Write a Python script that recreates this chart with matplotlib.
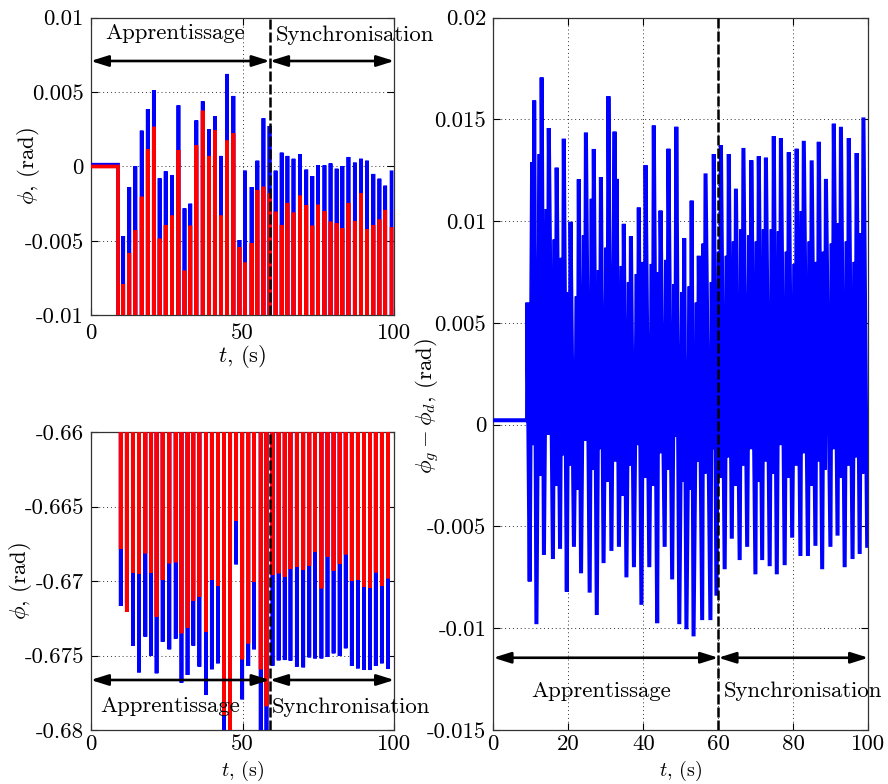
import numpy as np
import matplotlib
matplotlib.use('Agg')
import matplotlib.pyplot as plt

plt.rcParams['font.family'] = ['cmr10', 'DejaVu Serif']
plt.rcParams['mathtext.fontset'] = 'cm'
plt.rcParams['axes.unicode_minus'] = False
plt.rcParams['axes.formatter.use_mathtext'] = True

# ---------------- data ----------------
# phi_g (blue) and phi_d (red): one trough then one peak per cycle (s)
phi_t_trough = [9.9, 11.9, 13.9, 15.9, 18.0, 19.9, 21.7, 23.7, 25.9, 28.0,
                29.9, 31.9, 33.8, 35.8, 38.0, 39.9, 41.9, 43.9, 45.9, 47.9,
                49.9, 51.9, 53.8, 56.0, 57.9, 59.9, 61.9, 63.9, 65.8, 67.9,
                70.0, 72.0, 73.9, 76.0, 78.0, 80.0, 82.0, 84.0, 86.0, 88.0,
                90.0, 92.0, 93.9, 95.9, 97.9]
phi_t_peak = [10.7, 12.7, 14.7, 16.8, 18.8, 20.8, 22.7, 24.7, 26.8, 28.9,
              30.9, 32.8, 34.8, 36.9, 39.0, 40.9, 42.9, 44.9, 47.0, 49.0,
              50.8, 53.0, 54.9, 56.9, 58.9, 60.9, 62.9, 64.8, 66.8, 68.9,
              71.0, 73.0, 74.9, 77.0, 79.0, 81.0, 82.9, 84.9, 87.0, 89.0,
              91.0, 93.1, 95.1, 97.0, 99.1]
# peak values (mrad)
phi_g_peak = [-4.67, -1.38, 0.03, 2.41, 3.86, 5.14, -0.79, -0.32, -0.57, 4.11,
              -2.81, -2.50, 3.10, 4.38, 2.50, 3.39, 0.71, 6.22, 4.74, -4.94,
              -0.28, -1.38, 0.39, 3.24, 2.72, -0.28, 0.93, 0.71, 0.52, 0.82,
              -0.21, -0.64, 0.08, 0.08, 0.21, -0.15, 0.03, 0.64, 0.26, 0.52,
              0.39, -0.50, -0.82, -1.29, -0.39]
phi_d_peak = [-7.90, -5.83, -4.29, -2.03, 1.16, 2.67, -4.85, -3.93, -3.30, 1.11,
              -7.00, -3.98, 1.42, 3.75, 0.71, 2.45, -3.30, 1.74, 2.23, -5.43,
              -6.46, -5.16, -1.58, -1.36, -1.80, -3.04, -3.93, -2.45, -3.10, -1.96,
              -2.59, -3.98, -2.57, -3.01, -3.71, -3.82, -4.15, -2.45, -3.66, -1.80,
              -4.20, -3.93, -3.57, -2.92, -4.20]
# trough values (mrad)
phi_g_trough = [-671.67, -671.50, -674.33, -676.13, -673.73, -675.03, -676.19, -674.07, -674.58, -673.86,
                -676.82, -676.30, -674.33, -675.74, -677.65, -675.92, -675.52, -685.00, -683.00, -668.87,
                -677.94, -675.70, -674.58, -685.00, -684.00, -675.68, -675.32, -675.30, -675.34, -675.74,
                -675.79, -675.12, -675.19, -675.19, -675.07, -674.85, -675.03, -674.51, -675.70, -675.86,
                -675.97, -675.97, -675.70, -675.52, -675.90]
phi_d_trough = [-667.84, -672.05, -669.45, -669.50, -668.13, -669.45, -672.38, -669.92, -668.80, -668.73,
                -673.50, -673.12, -671.33, -671.04, -673.39, -669.92, -670.30, -679.00, -685.00, -665.94,
                -675.25, -674.18, -670.03, -675.92, -678.40, -669.59, -669.47, -669.70, -669.18, -669.03,
                -669.25, -668.96, -668.02, -670.48, -668.35, -669.29, -668.85, -668.20, -669.99, -669.92,
                -670.37, -670.44, -669.41, -670.30, -669.81]
phi_g_rest = 0.12   # mrad, before the start
phi_d_rest = 0.0
t_start = 9.0       # s

# phi_g - phi_d (mrad)
diff_rest = 0.22
diff_onset_t, diff_onset_v = 9.07, 6.0
diff_t_peak = [10.9, 12.9, 14.8, 16.9, 18.8, 20.6, 22.8, 24.7, 26.8, 28.7,
               30.7, 32.9, 34.8, 36.7, 38.8, 40.6, 42.8, 44.6, 46.7, 48.8,
               50.9, 52.9, 54.8, 56.6, 58.8, 60.7, 62.8, 64.7, 66.7, 68.8,
               70.8, 72.7, 74.8, 76.7, 78.8, 80.9, 82.8, 84.9, 86.8, 88.7,
               90.8, 92.7, 94.8, 96.9, 98.7]
diff_peak = [15.93, 17.06, 14.58, 12.63, 14.05, 9.97, 12.06, 14.35, 13.55, 12.16,
             16.14, 12.08, 9.87, 9.25, 10.67, 12.75, 14.70, 10.52, 13.56, 14.64,
             9.17, 11.01, 8.30, 12.35, 13.30, 13.73, 13.30, 11.60, 13.60, 12.99,
             13.19, 13.12, 14.18, 14.08, 13.38, 13.56, 13.95, 12.99, 13.90, 12.08,
             14.79, 14.64, 14.08, 13.35, 15.10]
diff_second_peak = [12.9, 13.3, 10.6, 9.1, 8.2, 6.5, 6.3, 9.3, 11.1, 7.6,
                    8.7, 14.4, 7.8, 7.0, 7.4, 8.0, 7.9, 7.5, 8.1, 6.9,
                    6.5, 6.8, 6.0, 8.9, 7.0, 8.5, 8.3, 9.0, 9.6, 9.3,
                    9.0, 9.6, 9.6, 9.5, 8.5, 7.9, 10.5, 9.0, 8.0, 8.5,
                    8.9, 9.9, 9.0, 8.0, 9.4]
diff_dip = [-1.0, -2.5, -0.5, -3.0, -1.5, -2.0, -3.2, -0.8, -2.2, -1.2,
            -2.8, -1.8, -3.5, -2.0, -1.0, -2.6, -3.0, -1.4, -2.2, -0.6,
            -2.8, -3.2, -1.8, -2.4, -1.2, -2.6, -1.6, -3.0, -2.0, -1.2,
            -2.8, -1.8, -2.4, -1.0, -2.6, -2.0, -1.4, -3.0, -1.8, -2.2,
            -1.2, -2.6, -2.0, -1.6, -2.4]
diff_t_trough = [9.7, 11.5, 13.5, 15.9, 17.8, 19.6, 21.5, 23.4, 25.7, 27.6,
                 29.4, 31.5, 33.5, 35.5, 37.5, 39.5, 41.6, 43.7, 45.7, 47.7,
                 49.6, 51.5, 53.4, 55.7, 57.9, 59.5, 61.7, 63.6, 65.7, 67.7,
                 69.9, 71.7, 73.7, 75.6, 77.7, 79.7, 81.9, 83.9, 85.9, 87.7,
                 89.9, 91.8, 93.7, 95.8, 97.7, 99.7]
diff_trough = [-7.7, -9.8, -6.4, -6.6, -6.1, -8.2, -6.0, -7.3, -8.25, -9.35,
               -6.8, -6.2, -6.0, -7.5, -7.0, -8.85, -7.0, -9.75, -6.0, -7.6,
               -9.8, -10.05, -10.4, -9.6, -9.6, -8.4, -7.1, -5.6, -6.65, -6.0,
               -7.35, -6.65, -6.95, -7.35, -6.9, -5.55, -6.45, -6.45, -5.95, -7.1,
               -6.0, -5.45, -7.0, -6.6, -6.35, -5.95]
second_lead, dip_lead = 0.55, 0.28   # s before each main peak

t_switch_left = 59.0
t_switch_right = 60.0

# ---------------- build series ----------------
def phi_series(rest, tr, pk):
    t = [0.0, t_start]
    v = [rest, rest]
    for a, b, c, d in zip(phi_t_trough, tr, phi_t_peak, pk):
        t += [a, c]
        v += [b, d]
    return np.array(t), np.array(v) * 1e-3

tg, vg = phi_series(phi_g_rest, phi_g_trough, phi_g_peak)
td, vd = phi_series(phi_d_rest, phi_d_trough, phi_d_peak)

t_diff = [0.0, t_start, diff_onset_t, diff_t_trough[0]]
v_diff = [diff_rest, diff_rest, diff_onset_v, diff_trough[0]]
for k in range(len(diff_t_peak)):
    tp = diff_t_peak[k]
    t_diff += [tp - second_lead, tp - dip_lead, tp, diff_t_trough[k + 1]]
    v_diff += [diff_second_peak[k], diff_dip[k], diff_peak[k], diff_trough[k + 1]]
t_diff = np.array(t_diff)
v_diff = np.array(v_diff) * 1e-3

# ---------------- figure ----------------
W, H = 888, 784
fig = plt.figure(figsize=(W / 100, H / 100), dpi=100)

def axpos(x0, y0, x1, y1):
    return [x0 / W, 1 - y1 / H, (x1 - x0) / W, (y1 - y0) / H]

ax1 = fig.add_axes(axpos(90.7, 17.7, 394.3, 315.3))
ax2 = fig.add_axes(axpos(90.7, 432.3, 394.3, 730.0))
ax3 = fig.add_axes(axpos(493.3, 17.7, 868.3, 730.0))

FS = 16.4
FS_BOTTOM_LABEL = 14.5
grid_kw = dict(linestyle=(0, (1, 3)), color='k', linewidth=0.7, alpha=0.8)

def style(ax, xt, xtl, yt, ytl, xpad):
    ax.set_axisbelow(True)
    ax.set_xticks(xt)
    ax.set_xticklabels(xtl)
    ax.set_yticks(yt)
    ax.set_yticklabels(ytl)
    ax.tick_params(direction='in', length=5, width=0.8, top=True, right=True,
                   labelsize=FS)
    ax.tick_params(axis='x', pad=xpad)
    ax.tick_params(axis='y', pad=5)
    ax.grid(True, **grid_kw)
    for s in ax.spines.values():
        s.set_color('#333333')
        s.set_linewidth(0.9)

arrow_kw = dict(arrowstyle='<|-|>,head_length=0.7,head_width=0.22',
                color='k', lw=1.9, mutation_scale=15, shrinkA=0, shrinkB=0)
dash_kw = dict(color='k', lw=1.8, linestyle=(0, (4, 1.2)), zorder=6)

# --- left panels ---
for ax, ylim, yt, ytl, xpad in [
        (ax1, (-0.01, 0.01), [-0.01, -0.005, 0, 0.005, 0.01],
         ['-0.01', '-0.005', '0', '0.005', '0.01'], 6),
        (ax2, (-0.68, -0.66), [-0.68, -0.675, -0.67, -0.665, -0.66],
         ['-0.68', '-0.675', '-0.67', '-0.665', '-0.66'], 3.5)]:
    ax.plot(tg, vg, color='b', lw=2.7, solid_joinstyle='miter', zorder=3)
    ax.plot(td, vd, color='r', lw=2.7, solid_joinstyle='miter', zorder=4)
    ax.set_xlim(0, 100)
    ax.set_ylim(*ylim)
    style(ax, [0, 50, 100], ['0', '50', '100'], yt, ytl, xpad)
    ax.axvline(t_switch_left, **dash_kw)
    ax.set_ylabel('$\\phi$, (rad)', fontsize=FS)

ax1.set_xlabel('$t$, (s)', fontsize=FS)
ax2.set_xlabel('$t$, (s)', fontsize=FS_BOTTOM_LABEL)
ax1.xaxis.set_label_coords(0.5, -0.093)
ax1.yaxis.set_label_coords(-0.16, 0.5)
ax2.xaxis.set_label_coords(0.5, -0.0974)
ax2.yaxis.set_label_coords(-0.187, 0.5)

y_arr1 = 0.00709
ax1.annotate('', xy=(0, y_arr1), xytext=(t_switch_left, y_arr1),
             arrowprops=arrow_kw, zorder=7)
ax1.annotate('', xy=(t_switch_left, y_arr1), xytext=(100, y_arr1),
             arrowprops=arrow_kw, zorder=7)
ax1.text(4.7, 0.00855, 'Apprentissage', fontsize=FS, va='baseline', ha='left')
ax1.text(61.0, 0.00845, 'Synchronisation', fontsize=FS, va='baseline', ha='left')

y_arr2 = -0.67664
ax2.annotate('', xy=(0, y_arr2), xytext=(t_switch_left, y_arr2),
             arrowprops=arrow_kw, zorder=7)
ax2.annotate('', xy=(t_switch_left, y_arr2), xytext=(100, y_arr2),
             arrowprops=arrow_kw, zorder=7)
ax2.text(3.0, -0.67877, 'Apprentissage', fontsize=FS, va='baseline', ha='left',
         zorder=8)
ax2.text(59.6, -0.67888, 'Synchronisation', fontsize=FS, va='baseline', ha='left',
         zorder=8)

# --- right panel ---
ax3.plot(t_diff, v_diff, color='b', lw=2.9, solid_joinstyle='miter', zorder=3)
ax3.set_xlim(0, 100)
ax3.set_ylim(-0.015, 0.02)
style(ax3, [0, 20, 40, 60, 80, 100], ['0', '20', '40', '60', '80', '100'],
      [-0.015, -0.01, -0.005, 0, 0.005, 0.01, 0.015, 0.02],
      ['-0.015', '-0.01', '-0.005', '0', '0.005', '0.01', '0.015', '0.02'], 3.5)
ax3.axvline(t_switch_right, **dash_kw)
ax3.set_xlabel('$t$, (s)', fontsize=FS_BOTTOM_LABEL)
ax3.set_ylabel('$\\phi_g - \\phi_d$, (rad)', fontsize=FS)
ax3.xaxis.set_label_coords(0.5, -0.0407)
ax3.yaxis.set_label_coords(-0.138, 0.455)

y_arr3 = -0.01145
ax3.annotate('', xy=(0, y_arr3), xytext=(t_switch_right, y_arr3),
             arrowprops=arrow_kw, zorder=7)
ax3.annotate('', xy=(t_switch_right, y_arr3), xytext=(100, y_arr3),
             arrowprops=arrow_kw, zorder=7)
ax3.text(10.2, -0.01337, 'Apprentissage', fontsize=FS, va='baseline', ha='left')
ax3.text(61.5, -0.0134, 'Synchronisation', fontsize=FS, va='baseline', ha='left')

fig.savefig('out.png', dpi=100)
